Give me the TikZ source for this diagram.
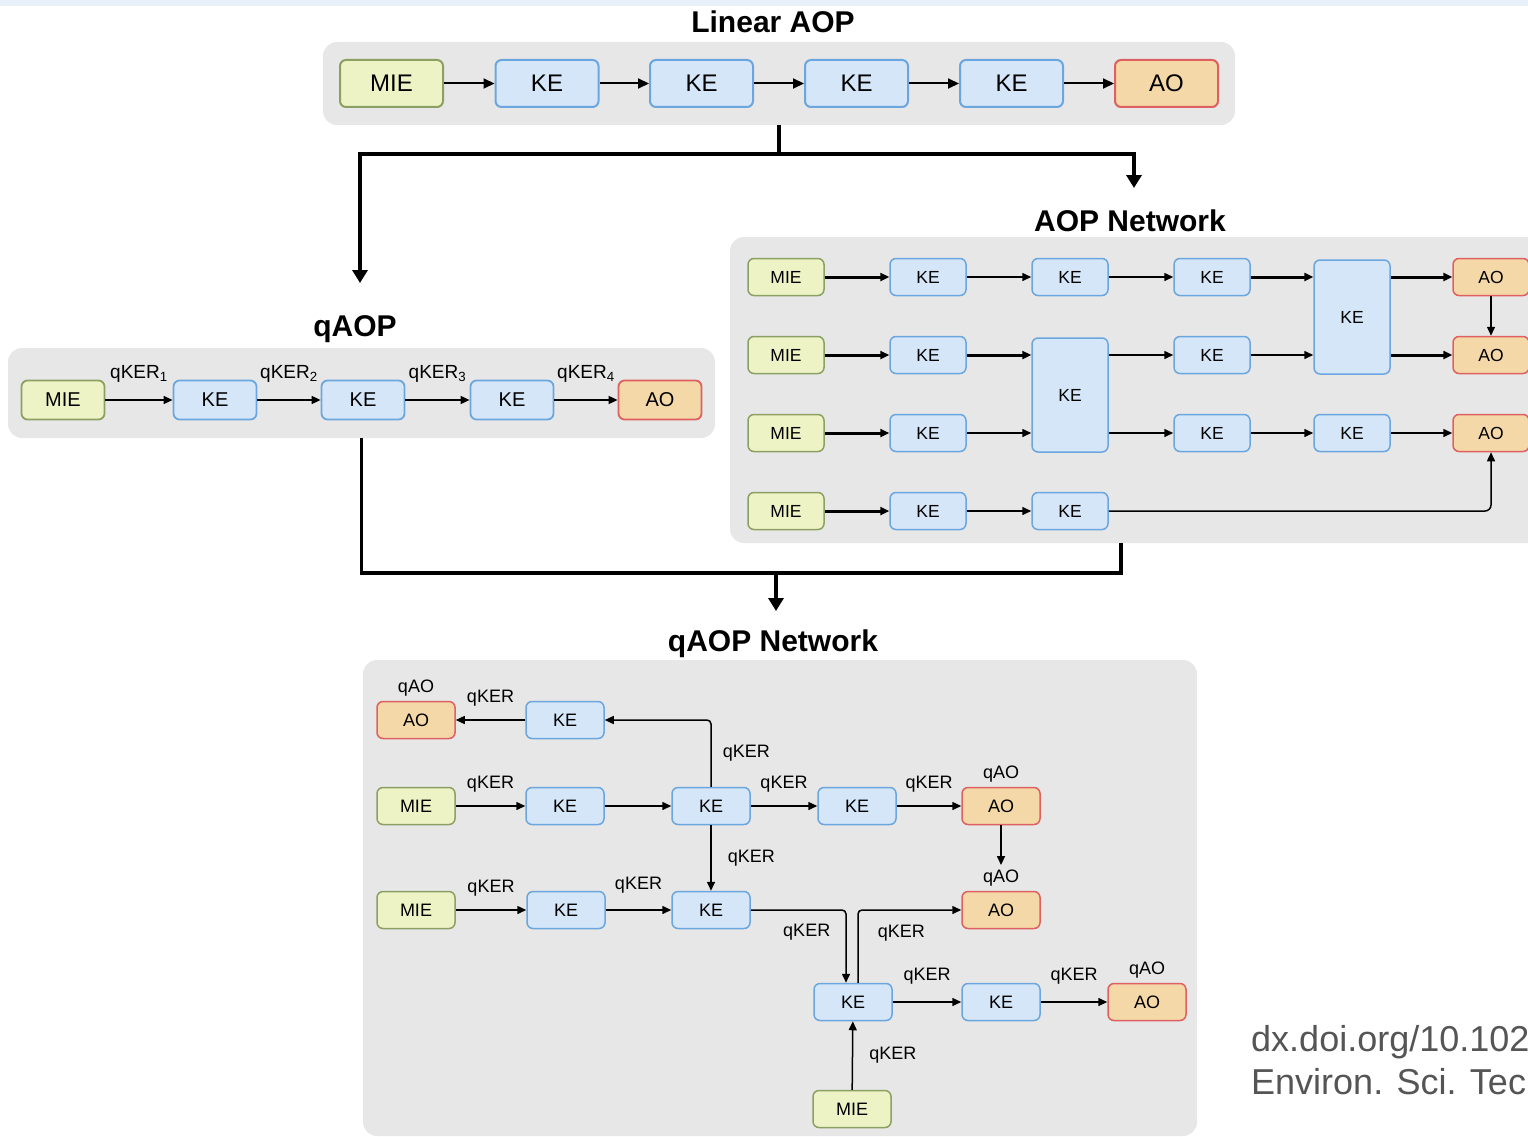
\documentclass[tikz,border=0pt]{standalone}
\usepackage{fontspec}
\setmainfont{Liberation Sans}
\usetikzlibrary{arrows.meta, positioning}
\definecolor{panelGray}{RGB}{231,231,231}
\definecolor{mieFill}{RGB}{238,243,198}
\definecolor{mieEdge}{RGB}{140,160,100}
\definecolor{keFill}{RGB}{213,230,249}
\definecolor{keEdge}{RGB}{108,166,222}
\definecolor{aoFill}{RGB}{245,216,168}
\definecolor{aoEdge}{RGB}{222,96,96}
\definecolor{doiGray}{RGB}{85,85,85}
\definecolor{stripBlue}{RGB}{232,240,249}
\tikzset{
    box/.style={rounded corners=6pt, inner sep=0pt, align=center},
    mie/.style={box, fill=mieFill, draw=mieEdge},
    ke/.style={box, fill=keFill, draw=keEdge},
    ao/.style={box, fill=aoFill, draw=aoEdge},
    linbox/.style={minimum width=103pt, minimum height=47pt, line width=2pt, font=\fontsize{24}{24}\selectfont},
    qbox/.style={minimum width=83pt, minimum height=39pt, line width=1.8pt, font=\fontsize{20}{20}\selectfont},
    netbox/.style={minimum width=76pt, minimum height=37pt, line width=1.5pt, font=\fontsize{17.5}{17.5}\selectfont},
    qnbox/.style={minimum width=78pt, minimum height=37pt, line width=1.5pt, font=\fontsize{18}{18}\selectfont},
    panel/.style={fill=panelGray, rounded corners=14pt, inner sep=0pt},
    hdr/.style={font=\fontsize{30}{30}\selectfont\bfseries},
    linlink/.style={line width=2pt, -{Triangle[length=11pt,width=10pt]}},
    link/.style={line width=1.5pt, -{Triangle[length=9pt,width=8pt]}},
    netthin/.style={link},
    netthick/.style={link, line width=3pt},
    flowline/.style={line width=3.5pt},
    flow/.style={flowline, -{Triangle[length=13pt,width=15pt]}},
    qker/.style={font=\fontsize{18}{18}\selectfont, inner sep=1pt},
    qao/.style={qker, label distance=3pt},
    doi/.style={font=\fontsize{36}{36}\selectfont, text=doiGray, inner sep=0pt}
}
\begin{document}
\begin{tikzpicture}[x=1pt, y=-1pt]
\useasboundingbox (0,0) rectangle (1528,1137);
% faint strip along the top edge
\fill[stripBlue] (0,0) rectangle (1528,6);

% grey panels
\node[panel, minimum width=912pt, minimum height=83pt] (plin) at (779,83.5) {};
\node[panel, minimum width=707pt, minimum height=90pt] (pq) at (361.5,393) {};
\node[panel, minimum width=820pt, minimum height=306pt] (pnet) at (1140,390) {};
\node[panel, minimum width=834pt, minimum height=476pt] (pqnet) at (780,898) {};

% titles
\node[hdr] (tlin) at (773,22) {Linear AOP};
\node[hdr] (tnet) at (1130,221) {AOP Network};
\node[hdr] (tq) at (355,329) {qAOP};
\node[hdr] (tqnet) at (773,644) {qAOP Network};

% linear AOP
\node[mie, linbox] (l0) at (391.5,83.5) {MIE};
\foreach \i/\x in {1/547, 2/701.5, 3/856.5, 4/1011.5}
    \node[ke, linbox] (l\i) at (\x,83.5) {KE};
\node[ao, linbox] (l5) at (1166.5,83.5) {AO};
\foreach \a/\b in {0/1, 1/2, 2/3, 3/4, 4/5}
    \draw[linlink] (l\a) -- (l\b);

% split into qAOP and AOP network
\coordinate (fork) at (779,154);
\coordinate (qin) at (360,283);
\coordinate (nin) at (1134,188);
\draw[flowline] (plin.south) -- (fork);
\draw[flow] (fork) -| (qin);
\draw[flow] (fork) -| (nin);

% qAOP
\node[mie, qbox] (q0) at (63,400) {MIE};
\foreach \i/\x in {1/215, 2/363, 3/512}
    \node[ke, qbox] (q\i) at (\x,400) {KE};
\node[ao, qbox] (q4) at (660,400) {AO};
\foreach \a/\b in {0/1, 1/2, 2/3, 3/4}
    \draw[link] (q\a) -- node[qker, font=\fontsize{19}{19}\selectfont, above=16pt] {qKER\textsubscript{\b}} (q\b);

% AOP network
\foreach \r/\y in {1/277, 2/355, 3/433, 4/511} {
    \node[mie, netbox] (m\r) at (786,\y) {MIE};
    \node[ke, netbox] (k\r1) at (928,\y) {KE};
    \draw[netthick] (m\r) -- (k\r1);
}
\node[ke, netbox] (k12) at (1070,277) {KE};
\node[ke, netbox] (k13) at (1212,277) {KE};
\node[ke, netbox, minimum height=114pt] (kta) at (1070,395) {KE};
\node[ke, netbox] (k23) at (1212,355) {KE};
\node[ke, netbox, minimum height=114pt] (ktb) at (1352,317) {KE};
\node[ke, netbox] (k33) at (1212,433) {KE};
\node[ke, netbox] (k34) at (1352,433) {KE};
\node[ke, netbox] (k42) at (1070,511) {KE};
\node[ao, netbox] (a1) at (1491,277) {AO};
\node[ao, netbox] (a2) at (1491,355) {AO};
\node[ao, netbox] (a3) at (1491,433) {AO};

\draw[netthin] (k11) -- (k12);
\draw[netthin] (k12) -- (k13);
\draw[netthick] (k13) -- (k13 -| ktb.west);
\draw[netthick] (a1 -| ktb.east) -- (a1);
\draw[netthin] (a1) -- (a2);
\draw[netthick] (k21) -- (k21 -| kta.west);
\draw[netthin] (k23 -| kta.east) -- (k23);
\draw[netthin] (k23) -- (k23 -| ktb.west);
\draw[netthick] (a2 -| ktb.east) -- (a2);
\draw[netthin] (k31) -- (k31 -| kta.west);
\draw[netthin] (k33 -| kta.east) -- (k33);
\draw[netthin] (k33) -- (k34);
\draw[netthin] (k34) -- (a3);
\draw[netthin] (k41) -- (k42);
\draw[netthin, rounded corners=6pt] (k42) -| (a3);

% merge into qAOP network
\coordinate (join) at (776,573);
\coordinate (nout) at (1121,543);
\coordinate (qnin) at (776,611);
\draw[flowline] (pq.south) |- (join) -| (nout);
\draw[flow] (join) -- (qnin);

% qAOP network
\node[ao, qnbox, label={[qao]above:qAO}] (ga1) at (416,720) {AO};
\node[ke, qnbox] (gk1) at (565,720) {KE};
\node[mie, qnbox] (gm2) at (416,806) {MIE};
\node[ke, qnbox] (gk21) at (565,806) {KE};
\node[ke, qnbox] (gk22) at (711,806) {KE};
\node[ke, qnbox] (gk23) at (857,806) {KE};
\node[ao, qnbox, label={[qao]above:qAO}] (ga2) at (1001,806) {AO};
\node[mie, qnbox] (gm3) at (416,910) {MIE};
\node[ke, qnbox] (gk31) at (566,910) {KE};
\node[ke, qnbox] (gk32) at (711,910) {KE};
\node[ao, qnbox, label={[qao, name=la3]above:qAO}] (ga3) at (1001,910) {AO};
\node[ke, qnbox] (gk41) at (853,1002) {KE};
\node[ke, qnbox] (gk42) at (1001,1002) {KE};
\node[ao, qnbox, label={[qao]above:qAO}] (ga4) at (1147,1002) {AO};
\node[mie, qnbox] (gm5) at (852,1109) {MIE};

\draw[link] (gk1) -- node[qker, above=12pt] {qKER} (ga1);
\draw[link, rounded corners=4pt] (gk22) |- node[qker, pos=0.25, right=10pt] {qKER} (gk1);
\draw[link] (gm2) -- node[qker, above=12pt] {qKER} (gk21);
\draw[link] (gk21) -- (gk22);
\draw[link] (gk22) -- node[qker, above=12pt] {qKER} (gk23);
\draw[link] (gk23) -- node[qker, above=12pt] {qKER} (ga2);
\draw[link] (ga2) -- ([yshift=4pt]la3.north);
\draw[link] (gk22) -- node[qker, right=15pt] {qKER} (gk32);
\draw[link] (gm3) -- node[qker, above=12pt] {qKER} (gk31);
\draw[link] (gk31) -- node[qker, above=15pt] {qKER} (gk32);
\draw[link, rounded corners=4pt] (gk32) -| node[qker, pos=0.65, left=14pt] {qKER} ([xshift=-7pt]gk41.north);
\draw[link, rounded corners=4pt] ([xshift=5pt]gk41.north) |- node[qker, pos=0.34, right=18pt] {qKER} (ga3);
\draw[link] (gk41) -- node[qker, above=16pt] {qKER} (gk42);
\draw[link] (gk42) -- node[qker, above=16pt] {qKER} (ga4);
\draw[link] (gm5) -- node[qker, right=15pt] {qKER} (gk41);

% reference
\node[doi, anchor=base west] (doi1) at (1251,1051) {dx.doi.org/10.102};
\node[doi, anchor=base west] (doi2) at (1251,1094) {Environ. Sci. Tec};
\end{tikzpicture}
\end{document}
